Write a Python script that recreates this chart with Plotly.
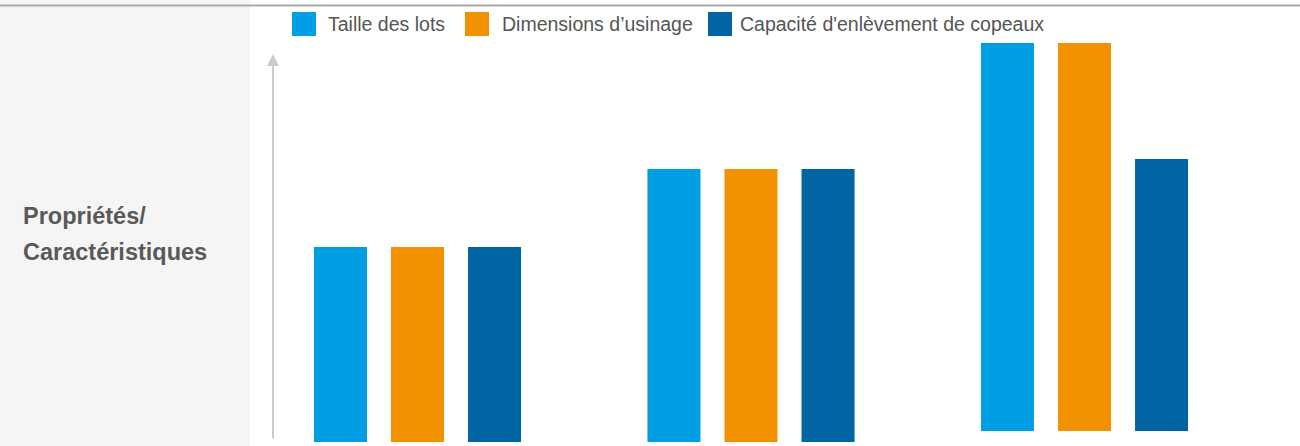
import plotly.graph_objects as go

# ---- data ----
categories = ["Groupe 1", "Groupe 2", "Groupe 3"]
series_names = ["Taille des lots", "Dimensions d\u2019usinage", "Capacité d'enlèvement de copeaux"]
taille_des_lots = [195, 273, 388]
dimensions_usinage = [195, 273, 388]
capacite_copeaux = [195, 273, 272]
bar_base = [0, 0, 11]
panel_lines = ["Propriétés/", "Caractéristiques"]

colors = ["#009FE3", "#F39200", "#0065A2"]
series_values = [taille_des_lots, dimensions_usinage, capacite_copeaux]

W, H = 1300, 446
ML, MR, MT, MB = 273, 0, 42, 4
PW = W - ML - MR
PH = H - MT - MB


def px(x):
    return (x - ML) / PW


def py(y):
    return (H - MB - y) / PH


fig = go.Figure()
for name, vals, col in zip(series_names, series_values, colors):
    fig.add_trace(go.Bar(x=categories, y=vals, base=bar_base, name=name,
                         marker=dict(color=col, line=dict(width=0)),
                         showlegend=False, hoverinfo="skip"))

shapes = [
    # left grey panel
    dict(type="rect", xref="paper", yref="paper", x0=px(0), x1=px(250), y0=py(446), y1=py(0),
         fillcolor="#F5F5F5", line=dict(width=0), layer="below"),
    # top rule
    dict(type="line", xref="paper", yref="paper", x0=px(0), x1=px(1300), y0=py(5.5), y1=py(5.5),
         line=dict(color="#AAAAAA", width=2)),
]
annotations = []

# custom legend
leg_sq_x = [292, 465, 708]
leg_txt_x = [326, 500, 738]
for name, col, sx, tx in zip(series_names, colors, leg_sq_x, leg_txt_x):
    shapes.append(dict(type="rect", xref="paper", yref="paper", x0=px(sx), x1=px(sx + 24),
                       y0=py(36), y1=py(12), fillcolor=col, line=dict(width=0)))
    annotations.append(dict(xref="paper", yref="paper", x=px(tx), y=py(24), text=name,
                            showarrow=False, xanchor="left", yanchor="middle",
                            font=dict(family="Liberation Sans, Arial, sans-serif", size=19.5, color="#555555")))

# panel text
for txt, yy in zip(panel_lines, [216, 252]):
    annotations.append(dict(xref="paper", yref="paper", x=px(21), y=py(yy), text="<b>" + txt + "</b>",
                            showarrow=False, xanchor="left", yanchor="middle",
                            font=dict(family="Liberation Sans, Arial, sans-serif", size=23.5, color="#595959")))

# y axis arrow
annotations.append(dict(xref="paper", yref="paper", x=px(273), y=py(54), ax=0, ay=386, text="",
                        showarrow=True, arrowhead=2, arrowsize=1.2, arrowwidth=2, arrowcolor="#CCCCCC",
                        standoff=0, startstandoff=0))

fig.update_layout(
    width=W, height=H,
    margin=dict(l=ML, r=MR, t=MT, b=MB),
    paper_bgcolor="white", plot_bgcolor="white",
    barmode="group", bargap=0.307, bargroupgap=0.3117,
    xaxis=dict(range=[(273 - 417.5) / 333.5, (1300 - 417.5) / 333.5], visible=False, fixedrange=True),
    yaxis=dict(range=[0, 400], visible=False, fixedrange=True),
    shapes=shapes, annotations=annotations,
    showlegend=False,
)

fig.write_html("out.html")
